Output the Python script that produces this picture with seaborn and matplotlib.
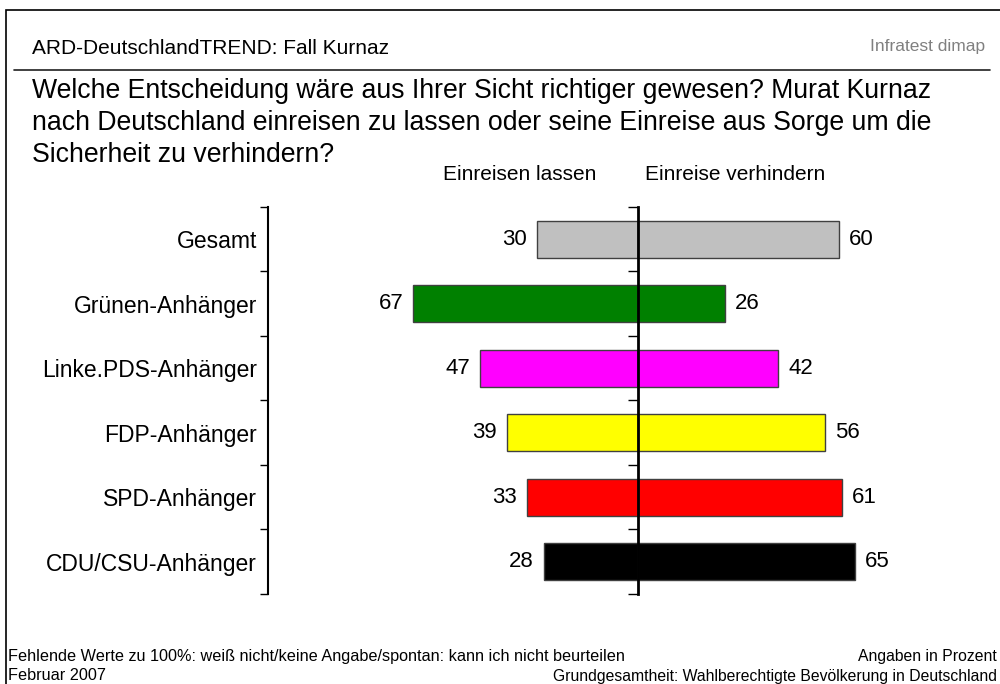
import pandas as pd
import seaborn as sns
import matplotlib.pyplot as plt
from matplotlib import font_manager
from matplotlib.patches import Rectangle
from matplotlib.lines import Line2D

# data
groups = ['Gesamt', 'Grünen-Anhänger', 'Linke.PDS-Anhänger',
          'FDP-Anhänger', 'SPD-Anhänger', 'CDU/CSU-Anhänger']
einreisen_lassen = [30, 67, 47, 39, 33, 28]
einreise_verhindern = [60, 26, 42, 56, 61, 65]
bar_colors = ['#C0C0C0', '#008000', '#FF00FF', '#FFFF00', '#FF0000', '#000000']

title = 'ARD-DeutschlandTREND: Fall Kurnaz'
question_lines = ['Welche Entscheidung wäre aus Ihrer Sicht richtiger gewesen? Murat Kurnaz',
                  'nach Deutschland einreisen zu lassen oder seine Einreise aus Sorge um die',
                  'Sicherheit zu verhindern?']
head_left = 'Einreisen lassen'
head_right = 'Einreise verhindern'
foot_left = ['Fehlende Werte zu 100%: weiß nicht/keine Angabe/spontan: kann ich nicht beurteilen',
             'Februar 2007']
foot_right = ['Angaben in Prozent',
              'Grundgesamtheit: Wahlberechtigte Bevölkerung in Deutschland']

df = pd.DataFrame({'group': groups,
                   'left': [-v for v in einreisen_lassen],
                   'right': einreise_verhindern})
palette = dict(zip(groups, bar_colors))

sns.set_style('white')
plt.rcParams['font.family'] = ['Liberation Sans', 'DejaVu Sans']
plt.rcParams['text.color'] = 'black'
plt.rcParams['ytick.color'] = 'black'
plt.rcParams['ytick.labelcolor'] = 'black'

installed = {f.name for f in font_manager.fontManager.ttflist}
narrow = 'Liberation Sans Narrow' in installed

fig = plt.figure(figsize=(10, 6.84), dpi=100)
ax = fig.add_axes([0.268, 0.1316, 0.7047, 0.5658])

for col in ['left', 'right']:
    sns.barplot(data=df, x=col, y='group', hue='group', palette=palette,
                legend=False, width=0.57, edgecolor='#404040', linewidth=1,
                saturation=1, ax=ax, orient='h')

for cont in ax.containers:
    vals = [abs(int(round(b.get_width()))) for b in cont]
    ax.bar_label(cont, labels=[str(v) for v in vals], padding=7, fontsize=16,
                 color='black')

xlim = (-110.3, 100)
ylim = (5.5, -0.5)
ax.set_xlim(*xlim)
ax.set_ylim(*ylim)
ax.set_xlabel('')
ax.set_ylabel('')
ax.set_xticks([])
for s in ['top', 'right', 'bottom']:
    ax.spines[s].set_visible(False)
ax.spines['left'].set_linewidth(1.5)
ax.spines['left'].set_color('black')
ax.set_yticks(range(len(groups)))
ax.set_yticklabels(groups, fontsize=16.5)
ax.set_yticks([i - 0.5 for i in range(len(groups) + 1)], minor=True)
ax.tick_params(axis='y', which='major', length=0, pad=8)
ax.tick_params(axis='y', which='minor', length=6, width=1, direction='out',
               color='black', left=True)

# centre axis at zero
ax2 = fig.add_axes(ax.get_position())
ax2.set_xlim(*xlim)
ax2.set_ylim(*ylim)
ax2.patch.set_visible(False)
for s in ['top', 'right', 'bottom']:
    ax2.spines[s].set_visible(False)
ax2.spines['left'].set_position(('data', 0))
ax2.spines['left'].set_linewidth(2)
ax2.spines['left'].set_color('black')
ax2.set_yticks([i - 0.5 for i in range(len(groups) + 1)])
ax2.set_yticklabels([])
ax2.set_xticks([])
ax2.tick_params(axis='y', length=7, width=1, direction='out', left=True,
                color='black')

# frame and header
fig.patches.append(Rectangle((0.006, -0.1), 1.2, 1.1 - 10 / 684,
                             transform=fig.transFigure, fill=False,
                             edgecolor='black', linewidth=1.2))
fig.lines.append(Line2D([0.014, 0.99], [1 - 70 / 684] * 2,
                        transform=fig.transFigure, color='#202020', linewidth=1.2))
fig.text(0.032, 1 - 48 / 684, title, fontsize=15, va='center')
if narrow:
    fig.text(0.985, 1 - 47 / 684, 'Infratest dimap', fontsize=15, va='center',
             ha='right', color='#808080', family='Liberation Sans Narrow')
else:
    fig.text(0.985, 1 - 47 / 684, 'Infratest dimap', fontsize=12.5, va='center',
             ha='right', color='#808080')
for i, line in enumerate(question_lines):
    fig.text(0.032, 1 - (91 + 32 * i) / 684, line, fontsize=19.2, va='center')

fig.text(0.52, 1 - 174 / 684, head_left, fontsize=15, ha='center', va='center')
fig.text(0.735, 1 - 174 / 684, head_right, fontsize=15, ha='center', va='center')

fig.text(0.008, 1 - 656 / 684, foot_left[0], fontsize=11.7, va='center')
fig.text(0.008, 1 - 676 / 684, foot_left[1], fontsize=11.7, va='center')
fig.text(0.997, 1 - 656 / 684, foot_right[0], fontsize=11.3, va='center', ha='right')
fig.text(0.997, 1 - 676 / 684, foot_right[1], fontsize=11.3, va='center', ha='right')

fig.savefig('out.png', dpi=100)
